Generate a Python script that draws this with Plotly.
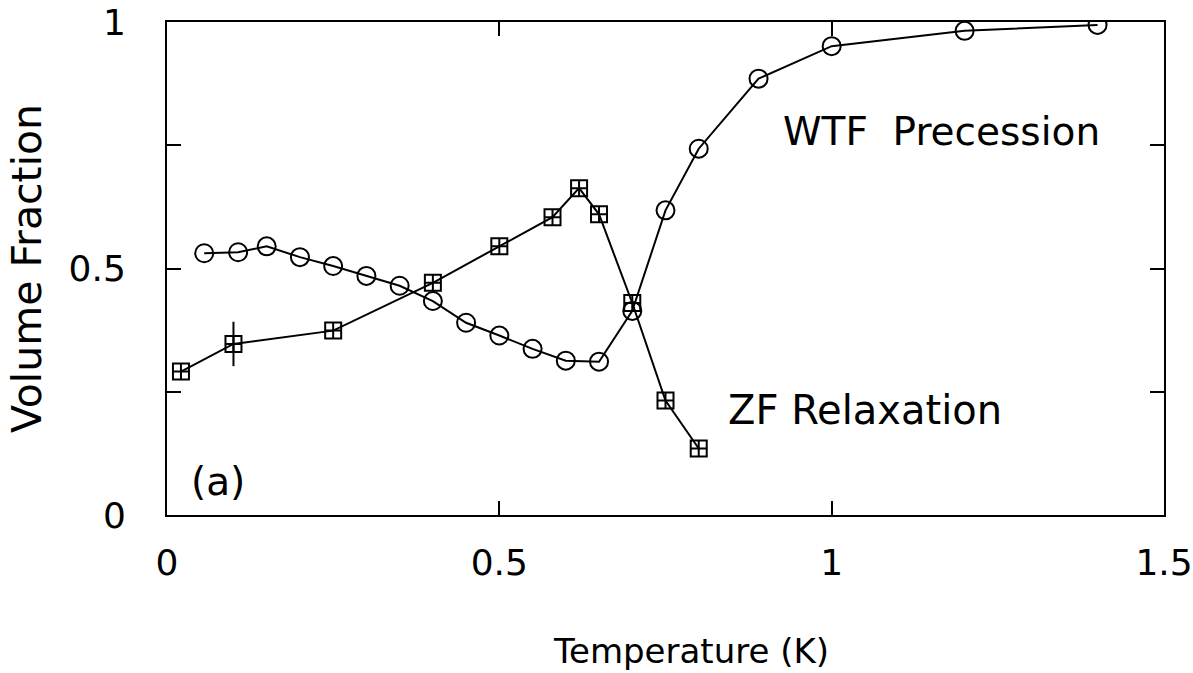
import plotly.graph_objects as go

# WTF Precession (circles)
wtf_T = [0.056, 0.107, 0.150, 0.20, 0.25, 0.30, 0.35, 0.40, 0.45, 0.50, 0.55, 0.60, 0.65, 0.70, 0.75, 0.80, 0.89, 1.00, 1.20, 1.40]
wtf_V = [0.531, 0.533, 0.545, 0.523, 0.505, 0.485, 0.465, 0.434, 0.390, 0.364, 0.337, 0.313, 0.311, 0.414, 0.618, 0.743, 0.885, 0.951, 0.982, 0.994]

# ZF Relaxation (squares)
zf_T = [0.021, 0.10, 0.25, 0.40, 0.50, 0.58, 0.62, 0.65, 0.70, 0.75, 0.80]
zf_V = [0.291, 0.347, 0.374, 0.471, 0.545, 0.604, 0.663, 0.610, 0.430, 0.232, 0.135]
zf_err = [0, 0.045, 0, 0, 0, 0, 0, 0, 0, 0, 0]

x_tickvals = [0, 0.5, 1, 1.5]
x_ticktext = ["0", "0.5", "1", "1.5"]
y_tickvals = [0, 0.25, 0.5, 0.75, 1]
y_ticktext = ["0", "", "0.5", "", "1"]

FONT = "DejaVu Sans"

fig = go.Figure()
fig.add_trace(go.Scatter(
    x=wtf_T, y=wtf_V, mode="lines+markers",
    line=dict(color="black", width=2),
    marker=dict(symbol="circle-open", size=18, color="black", line=dict(width=2)),
    showlegend=False))
fig.add_trace(go.Scatter(
    x=zf_T, y=zf_V, mode="lines+markers",
    line=dict(color="black", width=2),
    marker=dict(symbol="square-cross-open", size=16, color="black", line=dict(width=2)),
    error_y=dict(type="data", array=zf_err, visible=True, color="black", thickness=2, width=0),
    showlegend=False))

axis_common = dict(showline=True, linecolor="black", linewidth=2, mirror="ticks",
                   ticks="inside", ticklen=14, tickwidth=1.5, tickcolor="black",
                   showgrid=False, zeroline=False, automargin=False,
                   ticklabeloverflow="allow",
                   tickfont=dict(family=FONT, size=36, color="black"))

fig.update_xaxes(range=[0, 1.5], tickvals=x_tickvals, ticktext=x_ticktext,
                 ticklabelstandoff=15, **axis_common)
fig.update_yaxes(range=[0, 1], tickvals=y_tickvals, ticktext=y_ticktext,
                 ticklabelstandoff=32,
                 title=dict(text="Volume\u00a0Fraction", font=dict(family=FONT, size=41, color="black"), standoff=14),
                 **axis_common)

# x-axis title (offset to the right of centre, as in the original)
fig.add_annotation(xref="paper", yref="paper", x=0.526, y=-0.275, yanchor="middle",
                   text="Temperature\u00a0(K)", showarrow=False,
                   font=dict(family=FONT, size=34, color="black"))

ann_font = dict(family=FONT, size=39, color="black")
fig.add_annotation(x=1.165, y=0.778, text="WTF\u00a0\u00a0Precession", showarrow=False, font=ann_font)
fig.add_annotation(x=1.05, y=0.212, text="ZF Relaxation", showarrow=False,
                   font=dict(family=FONT, size=40, color="black"))
fig.add_annotation(x=0.077, y=0.067, text="(a)", showarrow=False, font=ann_font)

fig.update_layout(width=1193, height=673, plot_bgcolor="white", paper_bgcolor="white",
                  margin=dict(l=167, r=29, t=22, b=158))

fig.write_html("out.html")
